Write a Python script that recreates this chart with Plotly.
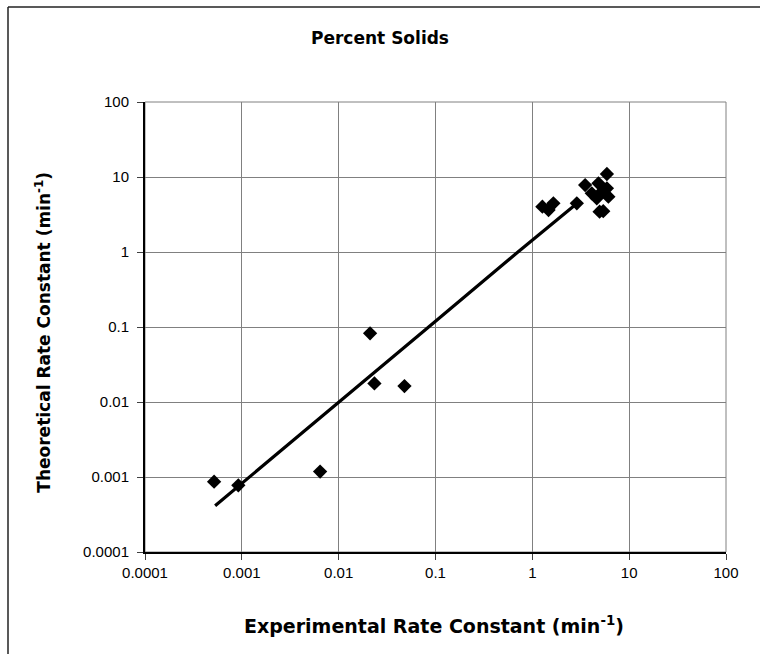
import plotly.graph_objects as go

# Measured points: experimental vs theoretical rate constants (min^-1)
exp_k = [0.000517, 0.00092, 0.00643, 0.0211, 0.0234, 0.0478,
         1.27, 1.65, 1.47, 2.88, 4.95, 5.4,
         3.51, 5.89, 4.11, 4.63, 5.89, 6.1, 5.22, 4.82]
theo_k = [0.000867, 0.000775, 0.00118, 0.0824, 0.0177, 0.0163,
          4.02, 4.46, 3.63, 4.46, 3.45, 3.5,
          7.8, 10.96, 6.06, 5.2, 7.07, 5.47, 6.37, 8.24]

# Fitted trend line
fit_x = [0.00053, 0.001, 0.01, 0.1, 0.71, 2.8]
fit_y = [0.000414, 0.00082, 0.0099, 0.119, 1.0, 4.3]

# Axis ticks
tick_vals = [0.0001, 0.001, 0.01, 0.1, 1, 10, 100]
tick_text = ["0.0001", "0.001", "0.01", "0.1", "1", "10", "100"]

FONT = "Arial, 'Liberation Sans', sans-serif"
WIDE = "'DejaVu Sans', Arial, sans-serif"

fig = go.Figure()
fig.add_trace(go.Scatter(x=fit_x, y=fit_y, mode="lines",
                         line=dict(color="black", width=3.2),
                         showlegend=False, hoverinfo="skip"))
fig.add_trace(go.Scatter(x=exp_k, y=theo_k, mode="markers",
                         marker=dict(symbol="diamond", size=11, color="black"),
                         showlegend=False))

axis_common = dict(
    type="log",
    tickvals=tick_vals,
    ticktext=tick_text,
    showgrid=True,
    gridcolor="#808080",
    gridwidth=1,
    ticks="outside",
    ticklen=6,
    tickcolor="#404040",
    showline=True,
    linecolor="black",
    linewidth=2,
    zeroline=False,
    tickfont=dict(family=FONT, size=15, color="black"),
)

fig.update_xaxes(range=[-4, 2], **axis_common)
fig.update_yaxes(range=[-4, 2], ticklabelstandoff=5, **axis_common)

fig.update_layout(
    width=760, height=654,
    margin=dict(l=145, r=34, t=102, b=102),
    paper_bgcolor="white",
    plot_bgcolor="white",
    font=dict(family=FONT, color="black"),
    shapes=[
        # plot-area frame
        dict(type="rect", xref="paper", yref="paper", x0=0, y0=0, x1=1, y1=1,
             line=dict(color="#808080", width=1), layer="below"),
        # chart-area border (left and top edges)
        dict(type="line", xref="paper", yref="paper",
             x0=-0.2358, x1=-0.2358, y0=1.2111, y1=-0.25,
             line=dict(color="#222222", width=1.5)),
        dict(type="line", xref="paper", yref="paper",
             x0=-0.2358, x1=1.08, y0=1.2111, y1=1.2111,
             line=dict(color="#222222", width=1.5)),
    ],
    annotations=[
        dict(text="<b>Percent Solids</b>", xref="paper", yref="paper",
             x=0.405, y=1.142, showarrow=False, xanchor="center", yanchor="middle",
             font=dict(family=WIDE, size=17, color="black")),
        dict(text="<b>Experimental Rate Constant (min<sup>-1</sup>)</b>",
             xref="paper", yref="paper", x=0.497, y=-0.162, showarrow=False,
             xanchor="center", yanchor="middle",
             font=dict(family=WIDE, size=19, color="black")),
        dict(text="<b>Theoretical Rate Constant (min<sup>-1</sup>)</b>",
             xref="paper", yref="paper", x=-0.176, y=0.489, showarrow=False,
             textangle=-90, xanchor="center", yanchor="middle",
             font=dict(family=WIDE, size=17, color="black")),
    ],
)

fig.write_html("out.html")
